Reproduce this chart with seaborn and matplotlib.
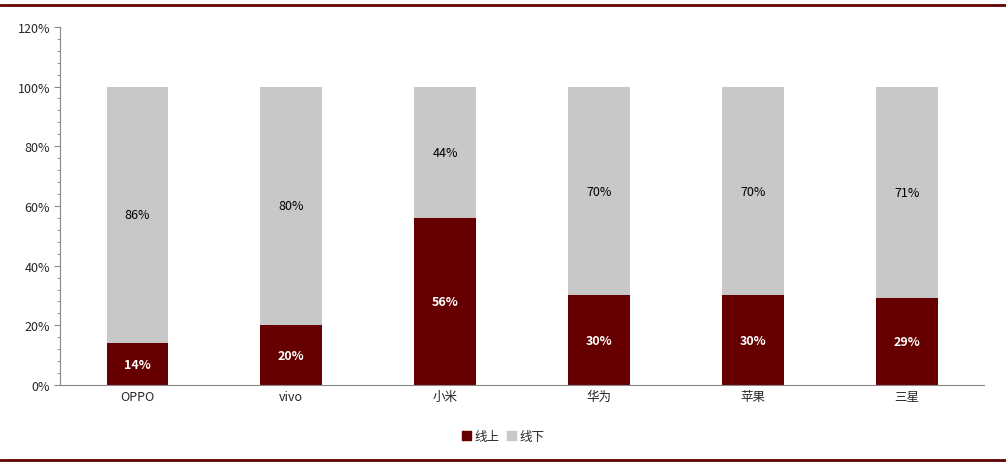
import matplotlib
matplotlib.use("Agg")
import matplotlib.pyplot as plt
import seaborn as sns
import pandas as pd
from matplotlib.lines import Line2D
from matplotlib.ticker import MultipleLocator, PercentFormatter

brands = ["OPPO", "vivo", "小米", "华为", "苹果", "三星"]
online = [14, 20, 56, 30, 30, 29]
offline = [86, 80, 44, 70, 70, 71]

sns.set_style("white")
plt.rcParams['font.family'] = ['Noto Sans CJK SC', 'DejaVu Sans']

RED = "#660000"
GREY = "#C8C8C8"

fig = plt.figure(figsize=(10.06, 4.64), dpi=100)
ax = fig.add_axes([0.06, 0.168, 0.918, 0.772])

df = pd.DataFrame({"brand": brands, "online": online,
                   "total": [a + b for a, b in zip(online, offline)]})
sns.barplot(data=df, x="brand", y="total", color=GREY, width=0.4, ax=ax, saturation=1, linewidth=0)
sns.barplot(data=df, x="brand", y="online", color=RED, width=0.4, ax=ax, saturation=1, linewidth=0)

for i, (a, b) in enumerate(zip(online, offline)):
    ax.text(i, a / 2, f"{a}%", ha="center", va="center", color="white", fontsize=9, fontweight="bold")
    ax.text(i, a + b / 2, f"{b}%", ha="center", va="center", color="black", fontsize=9)

ax.set_ylim(0, 120)
ax.set_xlim(-0.5, 5.5)
ax.yaxis.set_major_locator(MultipleLocator(20))
ax.yaxis.set_minor_locator(MultipleLocator(4))
ax.yaxis.set_major_formatter(PercentFormatter(decimals=0))
ax.tick_params(axis="y", which="major", left=True, length=4, color="#888888", labelsize=9)
ax.tick_params(axis="y", which="minor", left=True, length=2, color="#888888")
ax.tick_params(axis="x", labelsize=9, length=0)
ax.set_xlabel("")
ax.set_ylabel("")
for s in ["top", "right"]:
    ax.spines[s].set_visible(False)
ax.spines["left"].set_color("#888888")
ax.spines["bottom"].set_color("#888888")
if ax.get_legend():
    ax.get_legend().remove()

handles = [plt.Rectangle((0, 0), 1, 1, color=RED), plt.Rectangle((0, 0), 1, 1, color=GREY)]
fig.legend(handles, ["线上", "线下"], loc="center", bbox_to_anchor=(0.5, 0.058), ncol=2,
           frameon=False, fontsize=9, handlelength=0.7, handleheight=0.7, handletextpad=0.3, columnspacing=0.6)

fig.add_artist(Line2D([0, 1], [1 - 6 / 464] * 2, color=RED, lw=2, transform=fig.transFigure))
fig.add_artist(Line2D([0, 1], [1 - 461 / 464] * 2, color=RED, lw=2, transform=fig.transFigure))

fig.savefig("out.png", dpi=100)
